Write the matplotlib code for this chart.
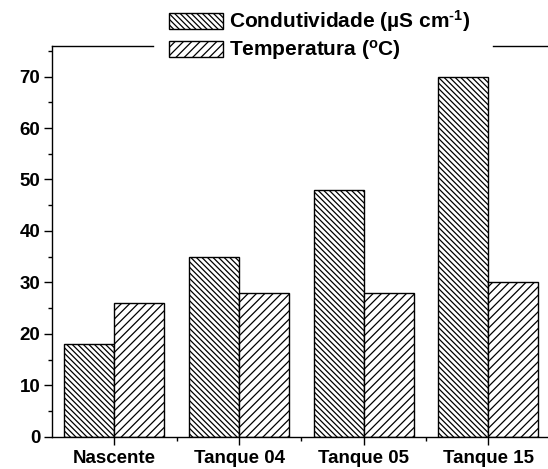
import matplotlib
matplotlib.use("Agg")
import matplotlib.pyplot as plt
import matplotlib.ticker as mticker
import numpy as np

plt.rcParams["font.family"] = ["Liberation Sans", "DejaVu Sans"]
plt.rcParams["font.weight"] = "bold"
plt.rcParams["mathtext.fontset"] = "custom"
plt.rcParams["mathtext.default"] = "bf"
plt.rcParams["mathtext.bf"] = "Liberation Sans:bold"
plt.rcParams["mathtext.rm"] = "Liberation Sans:bold"
plt.rcParams["hatch.linewidth"] = 0.9

# ── data ──────────────────────────────────────────────────────────────────────
sites = ["Nascente", "Tanque 04", "Tanque 05", "Tanque 15"]
condutividade = [18, 35, 48, 70]
temperatura = [26, 28, 28, 30]
series_labels = [r"Condutividade (µS cm$^{\text{-1}}$)", r"Temperatura ($^{o}$C)"]

FS = 13.5          # tick labels
LEG_FS = 15        # legend
BAR_W = 0.4
W, H = 548, 469

fig = plt.figure(figsize=(W / 100, H / 100), dpi=100)
ax_left, ax_w = 52, 498.7
ax = fig.add_axes([ax_left / W, 32.3 / H, ax_w / W, 391 / H])

x = np.arange(1, len(sites) + 1)
ax.bar(x - BAR_W / 2, condutividade, BAR_W, facecolor="white", edgecolor="black",
       linewidth=1.0, hatch="\\" * 6, label=series_labels[0], zorder=2)
ax.bar(x + BAR_W / 2, temperatura, BAR_W, facecolor="white", edgecolor="black",
       linewidth=1.0, hatch="/" * 4, label=series_labels[1], zorder=2)

ax.set_xlim(0.5, 4.5)
ax.set_ylim(0, 76)
ax.set_xticks(x)
ax.set_xticklabels(sites, fontsize=FS, fontweight="bold")
ax.xaxis.set_minor_locator(mticker.FixedLocator(x[:-1] + 0.5))
ax.yaxis.set_major_locator(mticker.MultipleLocator(10))
ax.yaxis.set_minor_locator(mticker.MultipleLocator(5))
for lab in ax.get_yticklabels():
    lab.set_fontsize(FS)
    lab.set_fontweight("bold")

ax.tick_params(which="major", direction="out", length=5.5, width=1.0, pad=3)
ax.tick_params(which="minor", direction="out", length=3, width=1.0)
ax.tick_params(axis="x", which="major", pad=4)
ax.spines["right"].set_visible(False)
ax.spines["top"].set_visible(False)
for s in ("left", "bottom"):
    ax.spines[s].set_linewidth(1.0)

# top frame line, interrupted where the legend sits
gap_l = (153 - ax_left) / ax_w
gap_r = (493 - ax_left) / ax_w
ax.axhline(76, xmin=0, xmax=gap_l, color="black", linewidth=1.0, clip_on=False)
ax.axhline(76, xmin=gap_r, xmax=1, color="black", linewidth=1.0, clip_on=False)

ax.legend(loc="center left", bbox_to_anchor=(169 / W, 1 - 35.5 / H),
          bbox_transform=fig.transFigure, prop={"size": LEG_FS, "weight": "bold"},
          frameon=False, handlelength=2.6, handleheight=0.82,
          handletextpad=0.29, labelspacing=0.19, borderpad=0,
          borderaxespad=0)

fig.savefig("out.png", dpi=100)
